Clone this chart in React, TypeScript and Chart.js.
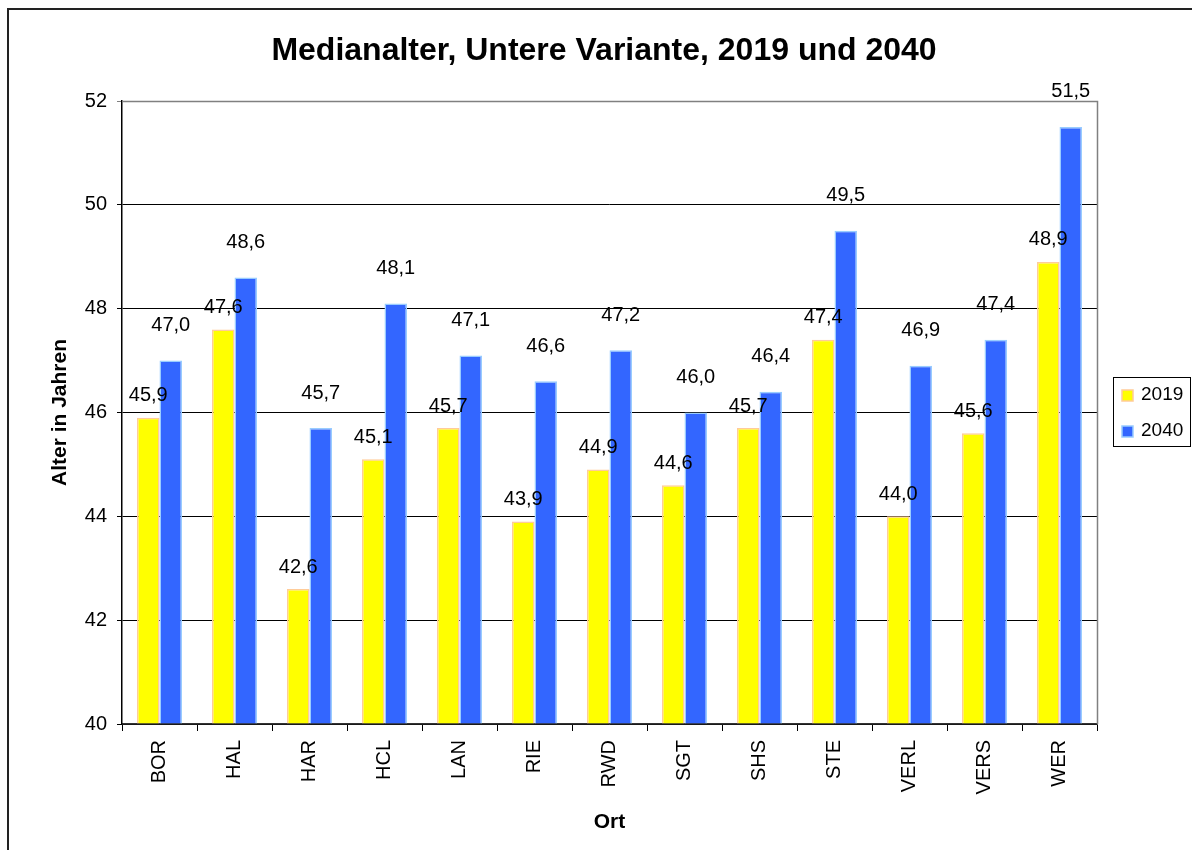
import React, { useEffect, useRef } from "react";
import { Chart, registerables } from "chart.js";

Chart.register(...registerables);

const categories = ["BOR", "HAL", "HAR", "HCL", "LAN", "RIE", "RWD", "SGT", "SHS", "STE", "VERL", "VERS", "WER"];
const values2019 = [45.9, 47.6, 42.6, 45.1, 45.7, 43.9, 44.9, 44.6, 45.7, 47.4, 44.0, 45.6, 48.9];
const values2040 = [47.0, 48.6, 45.7, 48.1, 47.1, 46.6, 47.2, 46.0, 46.4, 49.5, 46.9, 47.4, 51.5];
const seriesNames = ["2019", "2040"];
const yMin = 40;
const yMax = 52;
const yStep = 2;
const titleText = "Medianalter, Untere Variante, 2019 und 2040";
const yTitle = "Alter in Jahren";
const xTitle = "Ort";

const FONT = '"Liberation Sans", Arial, sans-serif';
const fillColors = ["#FFFF00", "#3366FF"];
const borderColors = ["#FFCC99", "#99CCFF"];
const labelOffsets = [22, 35];

const W = 1192;
const H = 850;
const AREA = { left: 122, right: 1097, top: 101, bottom: 724 };

const decorPlugin = {
  id: "decor",
  afterDatasetsDraw(chart: any) {
    const ctx = chart.ctx;
    const ca = chart.chartArea;
    ctx.save();
    // data labels
    ctx.font = `20px ${FONT}`;
    ctx.fillStyle = "#000";
    ctx.textAlign = "center";
    ctx.textBaseline = "middle";
    chart.data.datasets.forEach((ds: any, di: number) => {
      const meta = chart.getDatasetMeta(di);
      meta.data.forEach((bar: any, i: number) => {
        const v = ds.data[i] as number;
        ctx.fillText(v.toFixed(1).replace(".", ","), bar.x, bar.y - labelOffsets[di]);
      });
    });
    // plot border right/top
    ctx.strokeStyle = "#808080";
    ctx.lineWidth = 1.5;
    ctx.beginPath();
    ctx.moveTo(ca.left, ca.top + 0.5);
    ctx.lineTo(ca.right + 0.5, ca.top + 0.5);
    ctx.lineTo(ca.right + 0.5, ca.bottom);
    ctx.stroke();
    ctx.restore();
  },
  afterDraw(chart: any) {
    const ctx = chart.ctx;
    const ca = chart.chartArea;
    ctx.save();
    // outer frame
    ctx.strokeStyle = "#222";
    ctx.lineWidth = 2;
    ctx.strokeRect(8, 9, 1400, 1200);
    // title
    ctx.fillStyle = "#000";
    ctx.font = `bold 32px ${FONT}`;
    ctx.textAlign = "center";
    ctx.textBaseline = "middle";
    ctx.fillText(titleText, 604, 51);
    // axis titles
    ctx.font = `bold 21px ${FONT}`;
    ctx.fillText(xTitle, (ca.left + ca.right) / 2, 822);
    ctx.save();
    ctx.translate(60, (ca.top + ca.bottom) / 2);
    ctx.rotate(-Math.PI / 2);
    ctx.fillText(yTitle, 0, 0);
    ctx.restore();
    // legend
    ctx.strokeStyle = "#000";
    ctx.lineWidth = 1;
    ctx.strokeRect(1113.5, 377.5, 77, 69);
    const rows = [395, 431];
    ctx.font = `19px ${FONT}`;
    ctx.textAlign = "left";
    rows.forEach((cy, i) => {
      ctx.fillStyle = fillColors[i];
      ctx.fillRect(1122, cy - 5, 11, 11);
      ctx.strokeStyle = borderColors[i];
      ctx.lineWidth = 1.5;
      ctx.strokeRect(1122, cy - 5, 11, 11);
      ctx.fillStyle = "#000";
      ctx.fillText(seriesNames[i], 1141, cy);
    });
    ctx.restore();
  },
};

export default function App() {
  const ref = useRef<HTMLCanvasElement | null>(null);
  useEffect(() => {
    if (!ref.current) return;
    const chart = new Chart(ref.current, {
      type: "bar",
      data: {
        labels: categories,
        datasets: [values2019, values2040].map((d, i) => ({
          label: seriesNames[i],
          data: d,
          base: yMin,
          backgroundColor: fillColors[i],
          borderColor: borderColors[i],
          borderWidth: 1.5,
          borderSkipped: "start" as const,
          categoryPercentage: 0.6,
          barPercentage: 1.0,
        })),
      },
      options: {
        responsive: false,
        animation: false,
        devicePixelRatio: 1,
        layout: { padding: { left: 0, top: AREA.top, right: W - AREA.right, bottom: 0 } },
        plugins: { legend: { display: false }, title: { display: false }, tooltip: { enabled: false } },
        scales: {
          x: {
            afterFit: (s: any) => { s.height = H - AREA.bottom; },
            grid: { drawOnChartArea: false, drawTicks: true, tickLength: 7, color: "#000", offset: true },
            border: { display: true, color: "#333", width: 1.5 },
            ticks: {
              autoSkip: false,
              minRotation: 90,
              maxRotation: 90,
              padding: 9,
              color: "#000",
              font: { family: FONT, size: 20 },
            },
          },
          y: {
            min: yMin,
            max: yMax,
            afterFit: (s: any) => { s.width = AREA.left; },
            grid: {
              color: (c: any) => (c.tick && c.tick.value === yMax ? "#808080" : "#000"),
              tickLength: 5,
              drawTicks: true,
            },
            border: { display: true, color: "#000", width: 1.5 },
            ticks: {
              stepSize: yStep,
              padding: 10,
              color: "#000",
              font: { family: FONT, size: 20 },
            },
          },
        },
      },
      plugins: [decorPlugin],
    });
    return () => chart.destroy();
  }, []);
  return (
    <div style={{ position: "fixed", left: 0, top: 0, width: W, height: H, background: "#fff" }}>
      <canvas ref={ref} width={W} height={H} style={{ display: "block" }} />
    </div>
  );
}
